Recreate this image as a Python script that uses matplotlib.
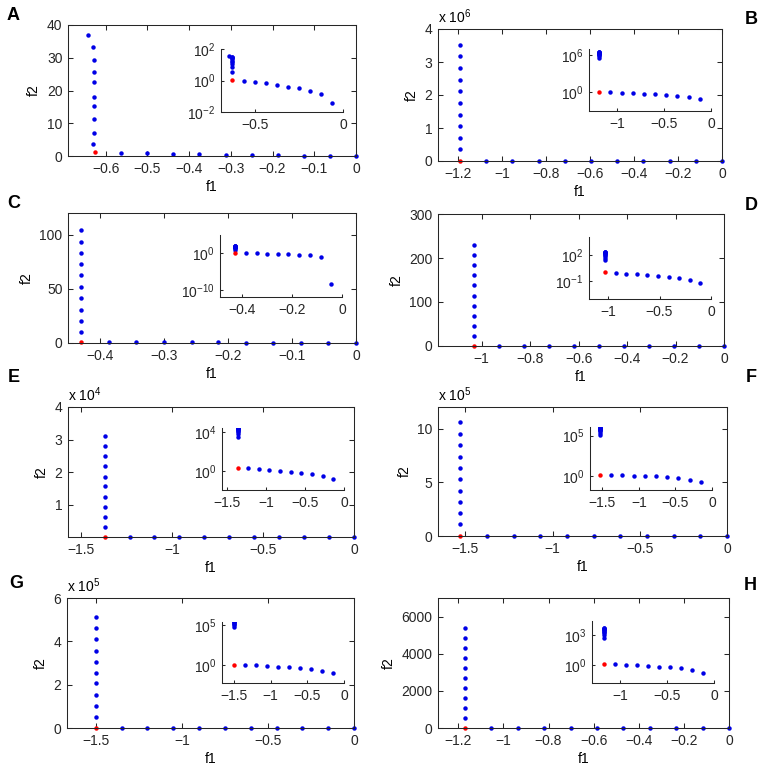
import numpy as np
import matplotlib
matplotlib.use("Agg")
import matplotlib.pyplot as plt
from matplotlib.ticker import FuncFormatter, NullLocator

plt.rcParams.update({
    "font.family": ["Liberation Sans", "DejaVu Sans"],
    "font.size": 10,
    "mathtext.fontset": "custom",
    "mathtext.rm": "Liberation Sans",
    "axes.linewidth": 0.75,
    "axes.edgecolor": "#262626",
    "xtick.direction": "in",
    "ytick.direction": "in",
    "xtick.color": "#262626",
    "ytick.color": "#262626",
})

# each panel: best point (red), vertical column of points, row of points along f1
a_best = [-0.625, 1.1]
a_col_f1 = [-0.629, -0.628, -0.628, -0.628, -0.628, -0.628, -0.628, -0.628, -0.630, -0.642]
a_col_f2 = [3.7, 6.9, 11.4, 15.3, 17.9, 22.7, 25.7, 29.4, 33.3, 37.0]
a_row_f1 = [-0.5625, -0.5, -0.4375, -0.375, -0.3125, -0.25, -0.1875, -0.125, -0.0625, 0]
a_row_f2 = [0.95, 0.82, 0.67, 0.53, 0.41, 0.32, 0.23, 0.13, 0.035, 0]

b_best = [-1.19, 1.36]
b_col_f1 = [-1.19, -1.19, -1.19, -1.19, -1.19, -1.19, -1.19, -1.19, -1.19, -1.19]
b_col_f2 = [0.36e6, 0.71e6, 1.06e6, 1.40e6, 1.76e6, 2.11e6, 2.46e6, 2.82e6, 3.17e6, 3.52e6]
b_row_f1 = [-1.071, -0.952, -0.833, -0.714, -0.595, -0.476, -0.357, -0.238, -0.119, 0]
b_row_f2 = [1.06, 0.94, 0.83, 0.65, 0.57, 0.45, 0.31, 0.21, 0.088, 0]

c_best = [-0.429, 1.0]
c_col_f1 = [-0.429, -0.429, -0.429, -0.429, -0.429, -0.429, -0.429, -0.429, -0.429, -0.429]
c_col_f2 = [10.1, 20.5, 30.9, 41.6, 52.0, 62.4, 72.8, 83.2, 93.6, 104.3]
c_row_f1 = [-0.386, -0.343, -0.300, -0.257, -0.215, -0.172, -0.129, -0.086, -0.043, 0]
c_row_f2 = [1.23, 1.0, 0.81, 0.81, 0.53, 0.35, 0.35, 0.1, 3.5e-9, 0]

d_best = [-1.03, 1.0]
d_col_f1 = [-1.03, -1.03, -1.03, -1.03, -1.03, -1.03, -1.03, -1.03, -1.03, -1.03]
d_col_f2 = [23, 46, 68, 91, 114, 138, 161, 183, 206, 229]
d_row_f1 = [-0.927, -0.824, -0.721, -0.618, -0.515, -0.412, -0.309, -0.206, -0.103, 0]
d_row_f2 = [0.92, 0.72, 0.60, 0.51, 0.39, 0.30, 0.235, 0.14, 0.06, 0]

e_best = [-1.37, 2.3]
e_col_f1 = [-1.37, -1.37, -1.37, -1.37, -1.37, -1.37, -1.37, -1.37, -1.37, -1.37]
e_col_f2 = [3100, 6200, 9300, 12400, 15550, 18600, 21800, 24800, 27900, 31000]
e_row_f1 = [-1.233, -1.096, -0.959, -0.822, -0.685, -0.548, -0.411, -0.274, -0.137, 0]
e_row_f2 = [2.3, 1.6, 1.26, 1.08, 0.86, 0.68, 0.5, 0.34, 0.156, 0]

f_best = [-1.53, 1.56]
f_col_f1 = [-1.53, -1.53, -1.53, -1.53, -1.53, -1.53, -1.53, -1.53, -1.53, -1.53]
f_col_f2 = [1.08e5, 2.13e5, 3.18e5, 4.23e5, 5.28e5, 6.33e5, 7.38e5, 8.43e5, 9.48e5, 10.56e5]
f_row_f1 = [-1.377, -1.224, -1.071, -0.918, -0.765, -0.612, -0.459, -0.306, -0.153, 0]
f_row_f2 = [1.42, 1.30, 1.19, 1.09, 1.0, 0.77, 0.54, 0.38, 0.20, 0]

g_best = [-1.5, 1.0]
g_col_f1 = [-1.5, -1.5, -1.5, -1.5, -1.5, -1.5, -1.5, -1.5, -1.5, -1.5]
g_col_f2 = [0.51e5, 1.03e5, 1.53e5, 2.06e5, 2.55e5, 3.05e5, 3.57e5, 4.1e5, 4.6e5, 5.11e5]
g_row_f1 = [-1.35, -1.2, -1.05, -0.9, -0.75, -0.6, -0.45, -0.3, -0.15, 0]
g_row_f2 = [0.91, 0.83, 0.68, 0.56, 0.46, 0.38, 0.29, 0.18, 0.09, 0]

h_best = [-1.17, 1.26]
h_col_f1 = [-1.17, -1.17, -1.17, -1.17, -1.17, -1.17, -1.17, -1.17, -1.17, -1.17]
h_col_f2 = [523, 1081, 1622, 2144, 2685, 3225, 3766, 4324, 4865, 5405]
h_row_f1 = [-1.053, -0.936, -0.819, -0.702, -0.585, -0.468, -0.351, -0.234, -0.117, 0]
h_row_f2 = [1.26, 1.17, 1.08, 0.86, 0.74, 0.63, 0.5, 0.37, 0.185, 0]

W, H = 762, 768


def rect(l, r, t, b):
    return [l / W, 1 - b / H, (r - l) / W, (b - t) / H]


def fmt(v):
    return f"{v:g}".replace("-", "\u2212")


# (letter, data, main box, inset box, xlim, xticks, ylim, yticks, exponent,
#  inset xlim, inset xticks, inset ylim, inset yticks, letter pos)
panels = [
    ("A", (a_best, a_col_f1, a_col_f2, a_row_f1, a_row_f2),
     (68, 356, 25, 156), (221, 343, 49, 112),
     (-0.69, 0), [-0.6, -0.5, -0.4, -0.3, -0.2, -0.1, 0], (0, 40), [0, 10, 20, 30, 40], 0,
     (-0.69, 0), [-0.5, 0], (1e-2, 1e2), [1e-2, 1e0, 1e2], (13, 15)),
    ("B", (b_best, b_col_f1, b_col_f2, b_row_f1, b_row_f2),
     (438, 722, 29, 161), (589, 711, 49, 111),
     (-1.29, 0), [-1.2, -1, -0.8, -0.6, -0.4, -0.2, 0], (0, 4e6), [0, 1e6, 2e6, 3e6, 4e6], 6,
     (-1.3, 0), [-1, -0.5, 0], (1e-3, 1e7), [1e0, 1e6], (751, 19)),
    ("C", (c_best, c_col_f1, c_col_f2, c_row_f1, c_row_f2),
     (68, 356, 213, 343), (220, 342, 235, 297),
     (-0.45, 0), [-0.4, -0.3, -0.2, -0.1, 0], (0, 120), [0, 50, 100], 0,
     (-0.49, 0), [-0.4, -0.2, 0], (1e-12, 1e5), [1e-10, 1e0], (14, 203)),
    ("D", (d_best, d_col_f1, d_col_f2, d_row_f1, d_row_f2),
     (438, 724, 214, 346), (589, 711, 237, 299),
     (-1.18, 0), [-1, -0.8, -0.6, -0.4, -0.2, 0], (0, 300), [0, 100, 200, 300], 0,
     (-1.185, 0), [-1, -0.5, 0], (1e-3, 1e4), [1e-1, 1e2], (751, 205)),
    ("E", (e_best, e_col_f1, e_col_f2, e_row_f1, e_row_f2),
     (68, 354, 407, 537), (222, 344, 428, 490),
     (-1.571, 0), [-1.5, -1, -0.5, 0], (0, 4e4), [1e4, 2e4, 3e4, 4e4], 4,
     (-1.57, 0), [-1.5, -1, -0.5, 0], (10 ** -1.9, 10 ** 4.4), [1e0, 1e4], (14, 378)),
    ("F", (f_best, f_col_f1, f_col_f2, f_row_f1, f_row_f2),
     (438, 727, 407, 536), (590, 712, 427, 490),
     (-1.657, 0), [-1.5, -1, -0.5, 0], (0, 12e5), [0, 5e5, 10e5], 5,
     (-1.667, 0), [-1.5, -1, -0.5, 0], (10 ** -1.7, 10 ** 6.05), [1e0, 1e5], (751, 378)),
    ("G", (g_best, g_col_f1, g_col_f2, g_row_f1, g_row_f2),
     (67, 354, 598, 728), (222, 344, 622, 683),
     (-1.667, 0), [-1.5, -1, -0.5, 0], (0, 6e5), [0, 2e5, 4e5, 6e5], 5,
     (-1.664, 0), [-1.5, -1, -0.5, 0], (10 ** -2.3, 10 ** 5.4), [1e0, 1e5], (16, 583)),
    ("H", (h_best, h_col_f1, h_col_f2, h_row_f1, h_row_f2),
     (438, 729, 598, 728), (592, 714, 621, 683),
     (-1.29, 0), [-1.2, -1, -0.8, -0.6, -0.4, -0.2, 0], (0, 7000), [0, 2000, 4000, 6000], 0,
     (-1.30, 0), [-1, -0.5, 0], (10 ** -1.77, 10 ** 4.4), [1e0, 1e3], (750, 585)),
]

fig = plt.figure(figsize=(W / 100, H / 100), dpi=100)

for (letter, data, box, ibox, xlim, xticks, ylim, yticks, exp,
     ixlim, ixticks, iylim, iyticks, lpos) in panels:
    best, col_f1, col_f2, row_f1, row_f2 = data
    scale = 10.0 ** exp

    ax = fig.add_axes(rect(*box))
    ax.plot(col_f1, col_f2, "o", color="#0000e6", ms=3.2, mew=0, clip_on=False)
    ax.plot(row_f1, row_f2, "o", color="#0000e6", ms=3.2, mew=0, clip_on=False)
    ax.plot([best[0]], [best[1]], "o", color="r", ms=3.2, mew=0, clip_on=False)
    ax.set_xlim(*xlim)
    ax.set_ylim(*ylim)
    ax.set_xticks(xticks)
    ax.set_yticks(yticks)
    ax.xaxis.set_major_formatter(FuncFormatter(lambda v, p: fmt(v)))
    ax.yaxis.set_major_formatter(FuncFormatter(lambda v, p, s=scale: fmt(v / s)))
    ax.tick_params(top=True, right=True, length=3.5, width=0.75, pad=4)
    ax.set_xlabel("f1", labelpad=3)
    ax.set_ylabel("f2", labelpad=4)
    if exp:
        ax.text(0, 1.02, r"x $\mathdefault{10^{%d}}$" % exp, transform=ax.transAxes,
                ha="left", va="bottom")

    ins = fig.add_axes(rect(*ibox))
    rf1 = [x for x, y in zip(row_f1, row_f2) if y > 0]
    rf2 = [y for y in row_f2 if y > 0]
    ins.plot(col_f1, col_f2, "o", color="#0000e6", ms=3.2, mew=0)
    ins.plot(rf1, rf2, "o", color="#0000e6", ms=3.2, mew=0)
    ins.plot([best[0]], [best[1]], "o", color="r", ms=3.2, mew=0)
    ins.set_yscale("log")
    ins.set_xlim(*ixlim)
    ins.set_ylim(*iylim)
    ins.set_xticks(ixticks)
    ins.set_yticks(iyticks)
    ins.yaxis.set_minor_locator(NullLocator())
    ins.xaxis.set_major_formatter(FuncFormatter(lambda v, p: fmt(v)))
    ins.spines["top"].set_visible(False)
    ins.spines["right"].set_visible(False)
    ins.tick_params(length=2.5, width=0.75, pad=4)

    fig.text(lpos[0] / W, 1 - lpos[1] / H, letter, fontsize=13, fontweight="bold",
             ha="center", va="center")

fig.savefig("out.png", dpi=100)
